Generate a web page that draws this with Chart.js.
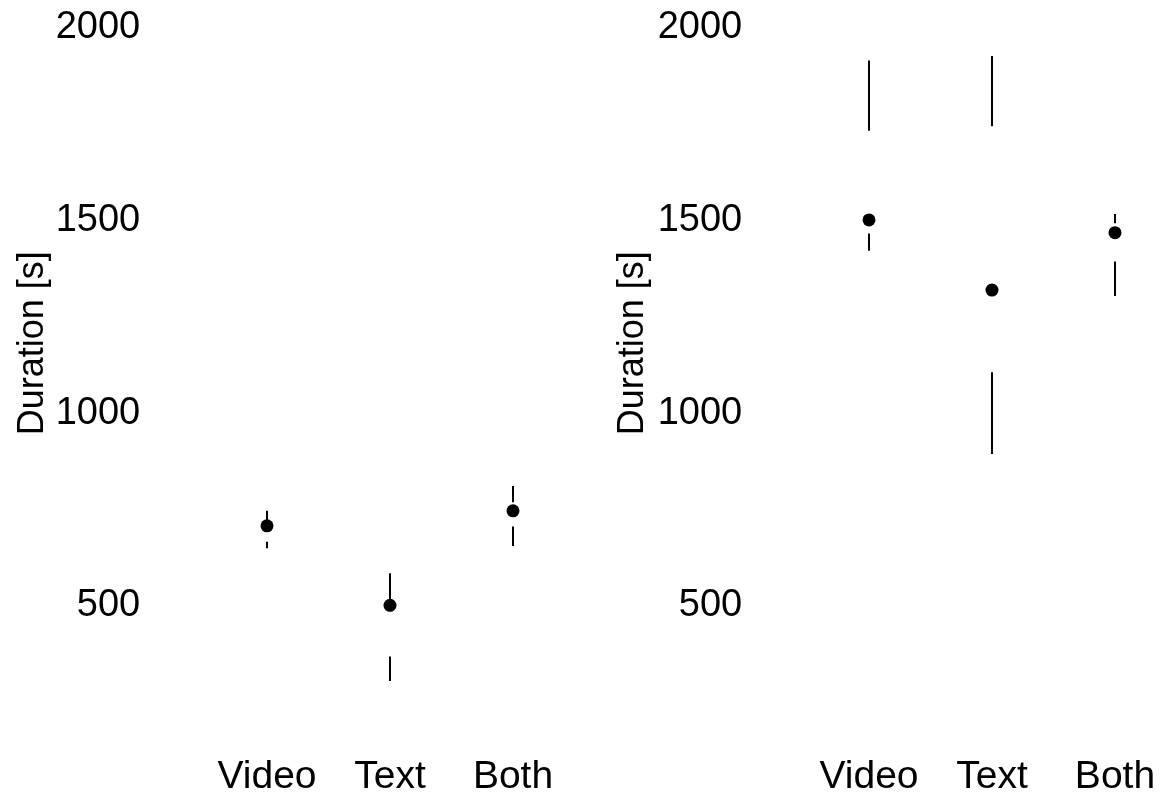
<!DOCTYPE html>
<html>
<head>
<meta charset="utf-8">
<script src="https://cdn.jsdelivr.net/npm/chart.js@4/dist/chart.umd.min.js"></script>
<style>
  html, body { margin: 0; padding: 0; background: #fff; overflow: hidden; }
  #wrap { position: relative; width: 1160px; height: 796px; overflow: hidden; }
  canvas { position: absolute; top: -25px; }
  #left { left: 0; }
  #right { left: 600px; }
</style>
</head>
<body>
<div id="wrap">
  <canvas id="left" width="600" height="821"></canvas>
  <canvas id="right" width="560" height="821"></canvas>
</div>
<script>
const categories = ['Video', 'Text', 'Both'];
const yTicks = [500, 1000, 1500, 2000];

// left panel: min, lower quartile, median, upper quartile, max
const leftMin = [642, 298, 648];
const leftQ1 = [659, 361, 698];
const leftMedian = [700, 494, 739];
const leftQ3 = [710, 502, 761];
const leftMax = [739, 577, 803];

// right panel
const rightMin = [1413, 886, 1296];
const rightQ1 = [1458, 1098, 1385];
const rightMedian = [1493, 1311, 1460];
const rightQ3 = [1724, 1736, 1484];
const rightMax = [1906, 1918, 1508];

Chart.defaults.font.family = "'Liberation Sans', Arial, sans-serif";
Chart.defaults.font.size = 38;
Chart.defaults.color = '#000';

function whisker(lo, hi) {
    const pts = [];
    for (let i = 0; i < categories.length; i++) {
        pts.push({ x: i + 1, y: lo[i] }, { x: i + 1, y: hi[i] }, { x: i + 1, y: null });
    }
    return pts;
}

function makePanel(id, mins, q1s, medians, q3s, maxs, xMax, padRight, yWidth) {
    const segStyle = {
        type: 'line',
        borderColor: '#000',
        borderWidth: 2,
        borderCapStyle: 'butt',
        pointRadius: 0,
        spanGaps: false
    };
    new Chart(document.getElementById(id), {
        type: 'scatter',
        data: {
            datasets: [
                Object.assign({ data: whisker(mins, q1s) }, segStyle),
                Object.assign({ data: whisker(q3s, maxs) }, segStyle),
                {
                    data: medians.map((m, i) => ({ x: i + 1, y: m })),
                    pointRadius: 6.5,
                    pointBackgroundColor: '#000',
                    pointBorderWidth: 0
                }
            ]
        },
        options: {
            responsive: false,
            animation: false,
            devicePixelRatio: 1,
            layout: { autoPadding: false, padding: { top: 0, left: 0, bottom: 0, right: padRight } },
            plugins: { legend: { display: false }, tooltip: { enabled: false } },
            scales: {
                x: {
                    type: 'linear',
                    min: 0.4,
                    max: xMax,
                    grid: { display: false, drawTicks: false },
                    border: { display: false },
                    ticks: { padding: 42, autoSkip: false, maxRotation: 0, font: { size: 39 }, callback: v => categories[v - 1] },
                    afterBuildTicks: s => { s.ticks = categories.map((c, i) => ({ value: i + 1 })); },
                    afterFit: s => { s.height = 84.6; s.paddingLeft = 0; s.paddingRight = 0; }
                },
                y: {
                    min: 219,
                    max: 2127.8,
                    grid: { display: false, drawTicks: false },
                    border: { display: false },
                    ticks: { padding: 53, labelOffset: 3, callback: v => String(v) },
                    afterBuildTicks: s => { s.ticks = yTicks.map(v => ({ value: v })); },
                    afterFit: s => { s.width = yWidth; s.paddingTop = 0; s.paddingBottom = 0; },
                    title: { display: true, text: 'Duration [s]', font: { size: 36 }, padding: { top: 11, bottom: 0 } }
                }
            }
        }
    });
}

makePanel('left', leftMin, leftQ1, leftMedian, leftQ3, leftMax, 3.6, 13.2, 193.2);
makePanel('right', rightMin, rightQ1, rightMedian, rightQ3, rightMax, 3.366, 0, 195.2);
</script>
</body>
</html>
